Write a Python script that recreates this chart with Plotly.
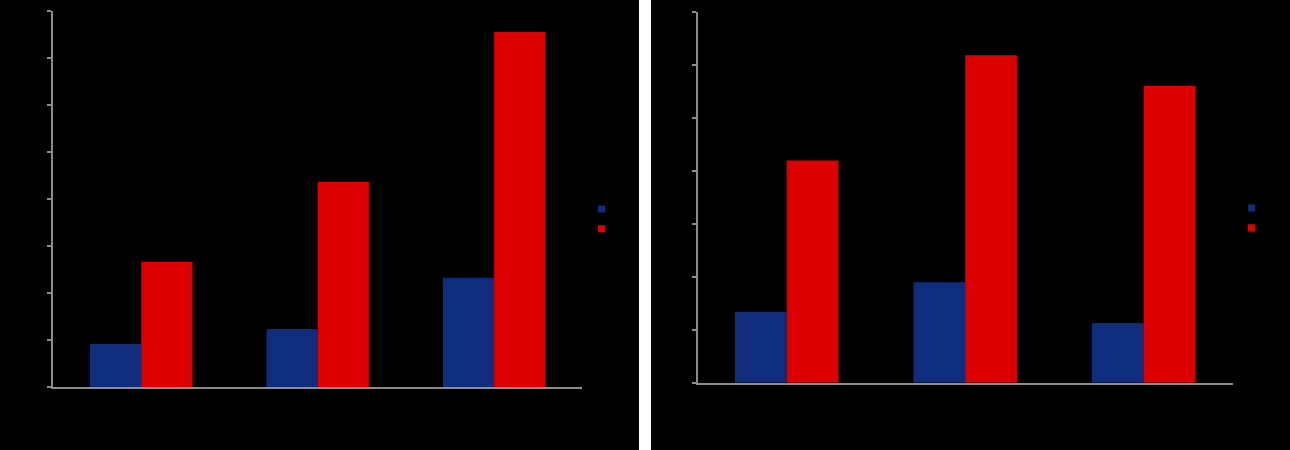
import plotly.graph_objects as go

# data (labels are drawn black on black in the original)
categories = ["Group 1", "Group 2", "Group 3"]
left_series_a = [0.92, 1.24, 2.33]
left_series_b = [2.67, 4.37, 7.56]
right_series_a = [1.34, 1.90, 1.13]
right_series_b = [4.20, 6.19, 5.61]
series_names = ["A", "B"]

BLUE = "#0f2d7c"
RED = "#dc0000"
GRAY = "#8c8c8c"
W, H = 1290, 450

fig = go.Figure()

# left chart
fig.add_trace(go.Bar(x=categories, y=left_series_a, marker_color=BLUE, marker_line_width=0,
                     showlegend=False, xaxis="x", yaxis="y"))
fig.add_trace(go.Bar(x=categories, y=left_series_b, marker_color=RED, marker_line_width=0,
                     showlegend=False, xaxis="x", yaxis="y"))
# right chart
fig.add_trace(go.Bar(x=categories, y=right_series_a, marker_color=BLUE, marker_line_width=0,
                     showlegend=False, xaxis="x2", yaxis="y2"))
fig.add_trace(go.Bar(x=categories, y=right_series_b, marker_color=RED, marker_line_width=0,
                     showlegend=False, xaxis="x2", yaxis="y2"))

# small square legend markers
for name, color in zip(series_names, [BLUE, RED]):
    fig.add_trace(go.Scatter(x=[None], y=[None], mode="markers", name=name,
                             marker=dict(symbol="square", size=7, color=color),
                             xaxis="x", yaxis="y", legend="legend"))
    fig.add_trace(go.Scatter(x=[None], y=[None], mode="markers", name=name,
                             marker=dict(symbol="square", size=7, color=color),
                             xaxis="x2", yaxis="y2", legend="legend2"))

axis_common = dict(showline=True, linecolor=GRAY, linewidth=1.5, showgrid=False,
                   zeroline=False, automargin=False, tickfont=dict(color="black", size=12))

fig.update_layout(
    width=W, height=H,
    margin=dict(l=0, r=0, t=0, b=0),
    paper_bgcolor="black",
    plot_bgcolor="black",
    font=dict(family="Liberation Sans", color="black"),
    barmode="group",
    bargap=0.42,
    bargroupgap=0,
    xaxis=dict(domain=[53 / W, 582.4 / W], anchor="y", ticks="", **axis_common),
    yaxis=dict(domain=[0.1393, 0.9749], anchor="x", range=[0, 8], dtick=1,
               ticks="outside", ticklen=4, tickcolor=GRAY, tickwidth=1.5, **axis_common),
    xaxis2=dict(domain=[697.5 / W, 1232.9 / W], anchor="y2", ticks="", **axis_common),
    yaxis2=dict(domain=[0.1496, 0.9724], anchor="x2", range=[0, 7], dtick=1,
                ticks="outside", ticklen=4, tickcolor=GRAY, tickwidth=1.5, **axis_common),
    legend=dict(x=581.5 / W, y=0.5133, xanchor="left", yanchor="middle",
                bgcolor="rgba(0,0,0,0)", font=dict(size=13, color="black")),
    legend2=dict(x=1231.5 / W, y=0.5156, xanchor="left", yanchor="middle",
                 bgcolor="rgba(0,0,0,0)", font=dict(size=13, color="black")),
    shapes=[dict(type="rect", xref="paper", yref="paper", x0=639 / W, x1=651 / W,
                 y0=0, y1=1, fillcolor="white", line_width=0, layer="below")],
)

# drop the default page margin so the figure fills the window
fig.write_html("out.html", config={"displayModeBar": False},
               post_script="document.body.style.margin='0';document.body.style.overflow='hidden';")
